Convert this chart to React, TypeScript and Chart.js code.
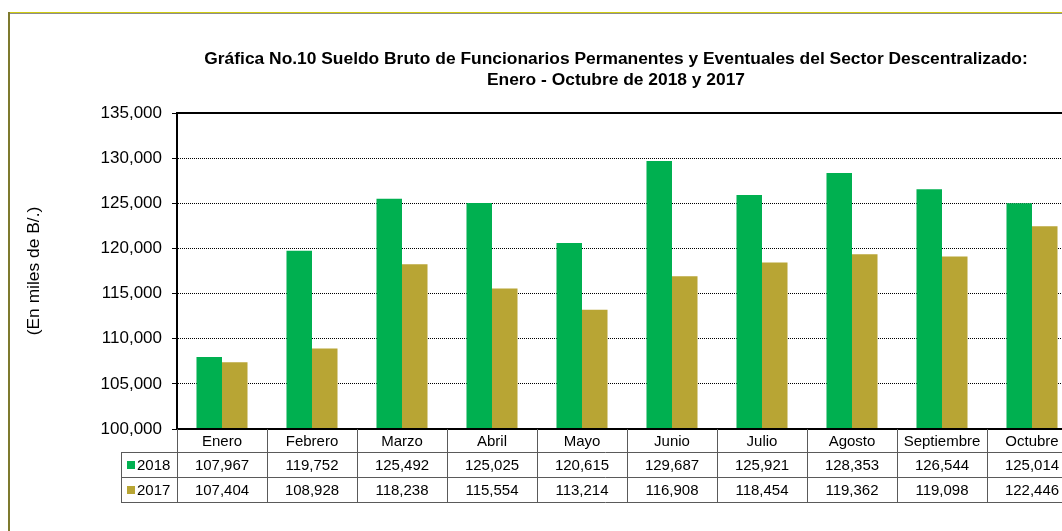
import { useEffect, useRef } from "react";
import { Chart, registerables } from "chart.js";

Chart.register(...registerables);

const categories = ["Enero", "Febrero", "Marzo", "Abril", "Mayo", "Junio", "Julio", "Agosto", "Septiembre", "Octubre"];
const series2018 = [107967, 119752, 125492, 125025, 120615, 129687, 125921, 128353, 126544, 125014];
const series2017 = [107404, 108928, 118238, 115554, 113214, 116908, 118454, 119362, 119098, 122446];
const seriesLabels = ["2018", "2017"];
const seriesColors = ["#00B050", "#B8A534"];
const titleLines = [
  "Gráfica No.10 Sueldo Bruto de Funcionarios Permanentes y Eventuales del Sector Descentralizado:",
  "Enero - Octubre de 2018 y 2017",
];
const yAxisTitle = "(En miles de B/.)";
const yMin = 100000;
const yMax = 135000;
const yStep = 5000;

const FONT = "'Liberation Sans', Arial, Helvetica, sans-serif";
const W = 1090;
const H = 531;

const fmt = (v: number) => v.toLocaleString("en-US");

const framePlugin = {
  id: "frameAndTable",
  beforeDraw(chart: any) {
    const { ctx } = chart;
    ctx.save();
    ctx.fillStyle = "#fff";
    ctx.fillRect(0, 0, W, H);
    // outer frame
    ctx.fillStyle = "#CFCB12";
    ctx.fillRect(8, 12, W, 1);
    ctx.fillStyle = "#8C8C8C";
    ctx.fillRect(8, 13, W, 1);
    ctx.fillStyle = "#7E7A2E";
    ctx.fillRect(8, 12, 2, H);
    // title
    ctx.fillStyle = "#000";
    ctx.font = `bold 17.4px ${FONT}`;
    ctx.textAlign = "center";
    ctx.textBaseline = "alphabetic";
    ctx.fillText(titleLines[0], 616, 64);
    ctx.fillText(titleLines[1], 616, 85);
    // y title
    ctx.save();
    ctx.translate(39, 271);
    ctx.rotate(-Math.PI / 2);
    ctx.font = `17.4px ${FONT}`;
    ctx.textBaseline = "alphabetic";
    ctx.fillText(yAxisTitle, 0, 0);
    ctx.restore();
    ctx.restore();
  },
  afterDraw(chart: any) {
    const { ctx, chartArea, scales } = chart;
    const xs = scales.x;
    const n = categories.length;
    const cw = (chartArea.right - chartArea.left) / n;
    const top = Math.round(chartArea.bottom);
    const r0 = top + 23;
    const r1 = r0 + 25;
    const r2 = r1 + 25;
    const legendLeft = Math.round(chartArea.left) - 56;
    const left = Math.round(chartArea.left);
    ctx.save();
    // plot top & bottom borders
    ctx.fillStyle = "#000";
    ctx.fillRect(left, Math.round(chartArea.top) - 1, chartArea.right - left + 2, 2);
    ctx.fillRect(left, top - 1, chartArea.right - left + 2, 2);

    // table grid
    ctx.strokeStyle = "#5A5A5A";
    ctx.lineWidth = 1;
    ctx.beginPath();
    ctx.moveTo(legendLeft, r0 + 0.5);
    ctx.lineTo(W, r0 + 0.5);
    ctx.moveTo(legendLeft, r1 + 0.5);
    ctx.lineTo(W, r1 + 0.5);
    ctx.moveTo(legendLeft, r2 + 0.5);
    ctx.lineTo(W, r2 + 0.5);
    ctx.moveTo(legendLeft + 0.5, r0);
    ctx.lineTo(legendLeft + 0.5, r2 + 1);
    for (let i = 0; i <= n; i++) {
      const bx = Math.round(xs.getPixelForValue(i) - cw / 2) + 0.5;
      ctx.moveTo(bx, top);
      ctx.lineTo(bx, r2 + 1);
    }
    ctx.stroke();

    ctx.fillStyle = "#000";
    ctx.font = `15px ${FONT}`;
    ctx.textAlign = "center";
    ctx.textBaseline = "middle";
    const rowsData = [series2018, series2017];
    const mids = [(top + r0) / 2 + 1, (r0 + r1) / 2 + 1, (r1 + r2) / 2 + 1];
    categories.forEach((c, i) => {
      const cx = xs.getPixelForValue(i);
      ctx.fillText(c, cx, mids[0]);
      ctx.fillText(fmt(rowsData[0][i]), cx, mids[1]);
      ctx.fillText(fmt(rowsData[1][i]), cx, mids[2]);
    });
    // legend keys
    ctx.textAlign = "left";
    seriesLabels.forEach((s, k) => {
      const my = mids[k + 1];
      ctx.fillStyle = seriesColors[k];
      ctx.fillRect(legendLeft + 6, Math.round(my - 5), 8, 8);
      ctx.fillStyle = "#000";
      ctx.fillText(s, legendLeft + 16, my);
    });
    ctx.restore();
  },
};

export default function App() {
  const ref = useRef<HTMLCanvasElement | null>(null);
  useEffect(() => {
    document.body.style.margin = "0";
    document.body.style.overflow = "hidden";
    const canvas = ref.current;
    if (!canvas) return;
    const chart = new Chart(canvas, {
      type: "bar",
      data: {
        labels: categories,
        datasets: [
          {
            label: seriesLabels[0],
            data: series2018,
            backgroundColor: seriesColors[0],
            borderWidth: 0,
            categoryPercentage: 0.567,
            barPercentage: 1,
          },
          {
            label: seriesLabels[1],
            data: series2017,
            backgroundColor: seriesColors[1],
            borderWidth: 0,
            categoryPercentage: 0.567,
            barPercentage: 1,
          },
        ],
      },
      options: {
        animation: false,
        responsive: false,
        devicePixelRatio: 1,
        layout: { padding: { top: 113, bottom: 102, left: 0, right: 13 } },
        plugins: {
          legend: { display: false },
          title: { display: false },
          tooltip: { enabled: false },
        },
        scales: {
          x: {
            display: false,
            grid: { display: false },
          },
          y: {
            min: yMin,
            max: yMax,
            afterFit: (scale: any) => {
              scale.width = 177;
            },
            ticks: {
              stepSize: yStep,
              padding: 10,
              color: "#000",
              font: { family: FONT, size: 17 },
              callback: (v: any) => fmt(Number(v)),
            },
            grid: {
              color: (c: any) =>
                c.tick && (c.tick.value === yMin || c.tick.value === yMax) ? "rgba(0,0,0,0)" : "#000",
              lineWidth: 1,
              tickLength: 5,
              tickColor: "#000",
              tickWidth: 1,
            },
            border: { display: true, color: "#000", width: 2, dash: [1, 1] },
          },
        },
      },
      plugins: [framePlugin],
    });
    return () => chart.destroy();
  }, []);
  return (
    <div style={{ width: W, height: H, overflow: "hidden" }}>
      <canvas ref={ref} width={W} height={H} style={{ width: W, height: H, display: "block" }} />
    </div>
  );
}
